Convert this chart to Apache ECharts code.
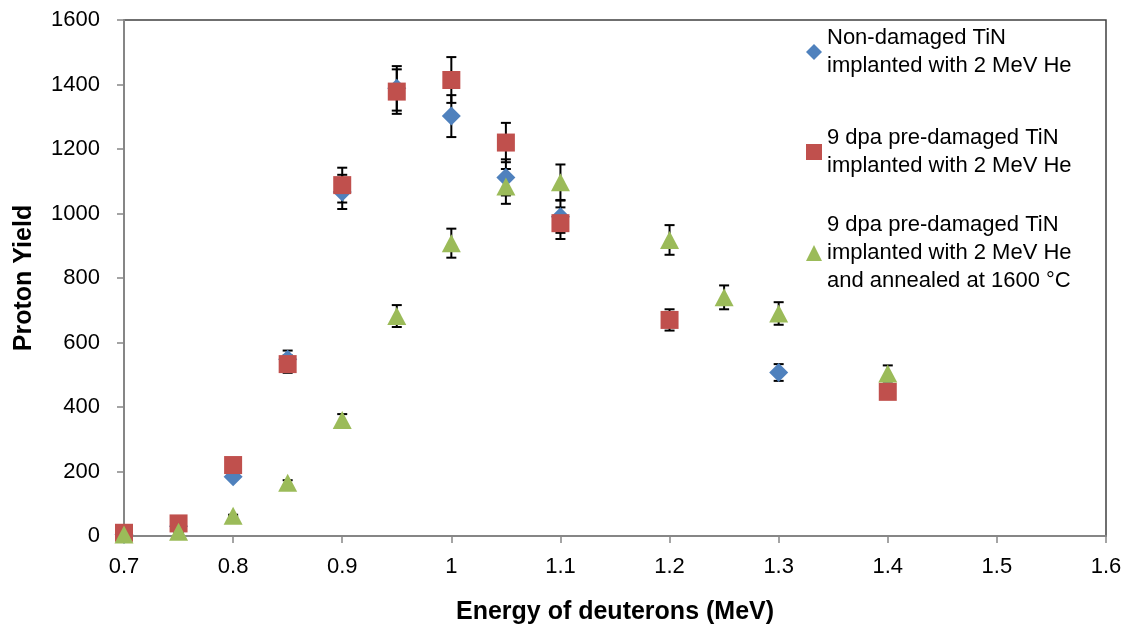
<!DOCTYPE html>
<html>
<head>
<meta charset="utf-8">
<script src="https://cdn.jsdelivr.net/npm/echarts@6/dist/echarts.min.js"></script>
<style>html,body{margin:0;padding:0;background:#fff}#chart{width:1130px;height:634px}</style>
</head>
<body>
<div id="chart"></div>
<script>
// Data
const seriesNames = [
  'Non-damaged TiN\nimplanted with 2 MeV He',
  '9 dpa pre-damaged TiN\nimplanted with 2 MeV He',
  '9 dpa pre-damaged TiN\nimplanted with 2 MeV He\nand annealed at 1600 \u00B0C'
];
const blueX = [0.7, 0.75, 0.8, 0.85, 0.9, 0.95, 1.0, 1.05, 1.1, 1.3];
const blueY = [5, 30, 184, 548, 1067, 1388, 1302, 1112, 990, 507];
const blueErr = [0, 2, 9, 27, 53, 69, 65, 56, 50, 26];

const redX = [0.7, 0.75, 0.8, 0.85, 0.9, 0.95, 1.0, 1.05, 1.1, 1.2, 1.4];
const redY = [10, 39, 220, 533, 1088, 1378, 1414, 1220, 970, 670, 447];
const redErr = [1, 2, 11, 27, 54, 69, 71, 61, 49, 33, 22];

const greenX = [0.7, 0.75, 0.8, 0.85, 0.9, 0.95, 1.0, 1.05, 1.1, 1.2, 1.25, 1.3, 1.4];
const greenY = [5, 13, 63, 165, 360, 682, 908, 1084, 1097, 918, 740, 690, 504];
const greenErr = [0, 1, 3, 8, 18, 34, 45, 54, 55, 46, 37, 35, 25];

const xTicks = [0.7, 0.8, 0.9, 1.0, 1.1, 1.2, 1.3, 1.4, 1.5, 1.6];
const yTicks = [0, 200, 400, 600, 800, 1000, 1200, 1400, 1600];

const FONT = 'Liberation Sans';
const colors = ['#4F81BD', '#C0504D', '#9BBB59'];

function pts(xs, ys) { return xs.map((x, i) => [x, ys[i]]); }
function errPts(xs, ys, es) { return xs.map((x, i) => [x, ys[i], es[i]]); }

function errorSeries(data) {
  return {
    type: 'custom',
    silent: true,
    z: 1,
    data: data,
    renderItem: function (params, api) {
      const x = api.value(0), y = api.value(1), e = api.value(2);
      const hi = api.coord([x, y + e]);
      const lo = api.coord([x, y - e]);
      const hw = 5;
      const st = { stroke: '#000', lineWidth: 2 };
      return {
        type: 'group',
        children: [
          { type: 'line', shape: { x1: hi[0], y1: hi[1], x2: lo[0], y2: lo[1] }, style: st },
          { type: 'line', shape: { x1: hi[0] - hw, y1: hi[1], x2: hi[0] + hw, y2: hi[1] }, style: st },
          { type: 'line', shape: { x1: lo[0] - hw, y1: lo[1], x2: lo[0] + hw, y2: lo[1] }, style: st }
        ]
      };
    }
  };
}

function legendFor(name, top, lines) {
  return {
    data: [name],
    left: 806,
    top: top,
    orient: 'vertical',
    padding: 0,
    itemWidth: 16,
    itemHeight: 16,
    itemGap: 5,
    selectedMode: false,
    textStyle: {
      fontFamily: FONT, fontSize: 22, color: '#000', lineHeight: 28,
      padding: [(lines - 1) * 28, 0, 0, 0]
    }
  };
}

const chart = echarts.init(document.getElementById('chart'), null, { renderer: 'canvas' });
chart.setOption({
  animation: false,
  backgroundColor: '#fff',
  color: colors,
  grid: {
    left: 124, right: 24, top: 20, bottom: 98,
    outerBoundsMode: 'none', containLabel: false,
    show: true, borderColor: '#404040', borderWidth: 1.5, backgroundColor: 'transparent'
  },
  legend: [
    legendFor(seriesNames[0], 10, 2),
    legendFor(seriesNames[1], 110, 2),
    legendFor(seriesNames[2], 183, 3)
  ],
  xAxis: {
    type: 'value', min: 0.7, max: 1.6, interval: 0.1,
    name: 'Energy of deuterons (MeV)', nameLocation: 'middle', nameGap: 64,
    nameTextStyle: { fontFamily: FONT, fontSize: 25, fontWeight: 'bold', color: '#000' },
    axisLine: { show: true, onZero: false, lineStyle: { color: '#868686', width: 2 } },
    axisTick: { show: true, length: 7, lineStyle: { color: '#868686', width: 1.5 } },
    axisLabel: {
      fontFamily: FONT, fontSize: 22, color: '#000', margin: 20,
      formatter: v => String(parseFloat(Number(v).toFixed(1)))
    },
    splitLine: { show: false }
  },
  yAxis: {
    type: 'value', min: 0, max: 1600, interval: 200,
    name: 'Proton Yield', nameLocation: 'middle', nameGap: 87, nameRotate: 90,
    nameTextStyle: { fontFamily: FONT, fontSize: 25, fontWeight: 'bold', color: '#000' },
    axisLine: { show: true, onZero: false, lineStyle: { color: '#868686', width: 2 } },
    axisTick: { show: true, length: 7, lineStyle: { color: '#868686', width: 1.5 } },
    axisLabel: { fontFamily: FONT, fontSize: 22, color: '#000', margin: 24, formatter: v => String(v) },
    splitLine: { show: false }
  },
  series: [
    errorSeries(errPts(blueX, blueY, blueErr)),
    errorSeries(errPts(redX, redY, redErr)),
    errorSeries(errPts(greenX, greenY, greenErr)),
    {
      name: seriesNames[0], type: 'scatter', symbol: 'diamond', symbolSize: 19, z: 3,
      itemStyle: { color: colors[0], opacity: 1 }, data: pts(blueX, blueY)
    },
    {
      name: seriesNames[1], type: 'scatter', symbol: 'rect', symbolSize: 18, z: 4,
      itemStyle: { color: colors[1], opacity: 1 }, data: pts(redX, redY)
    },
    {
      name: seriesNames[2], type: 'scatter', symbol: 'triangle', symbolSize: [19, 18], z: 5,
      itemStyle: { color: colors[2], opacity: 1 }, data: pts(greenX, greenY)
    }
  ]
});
</script>
</body>
</html>
